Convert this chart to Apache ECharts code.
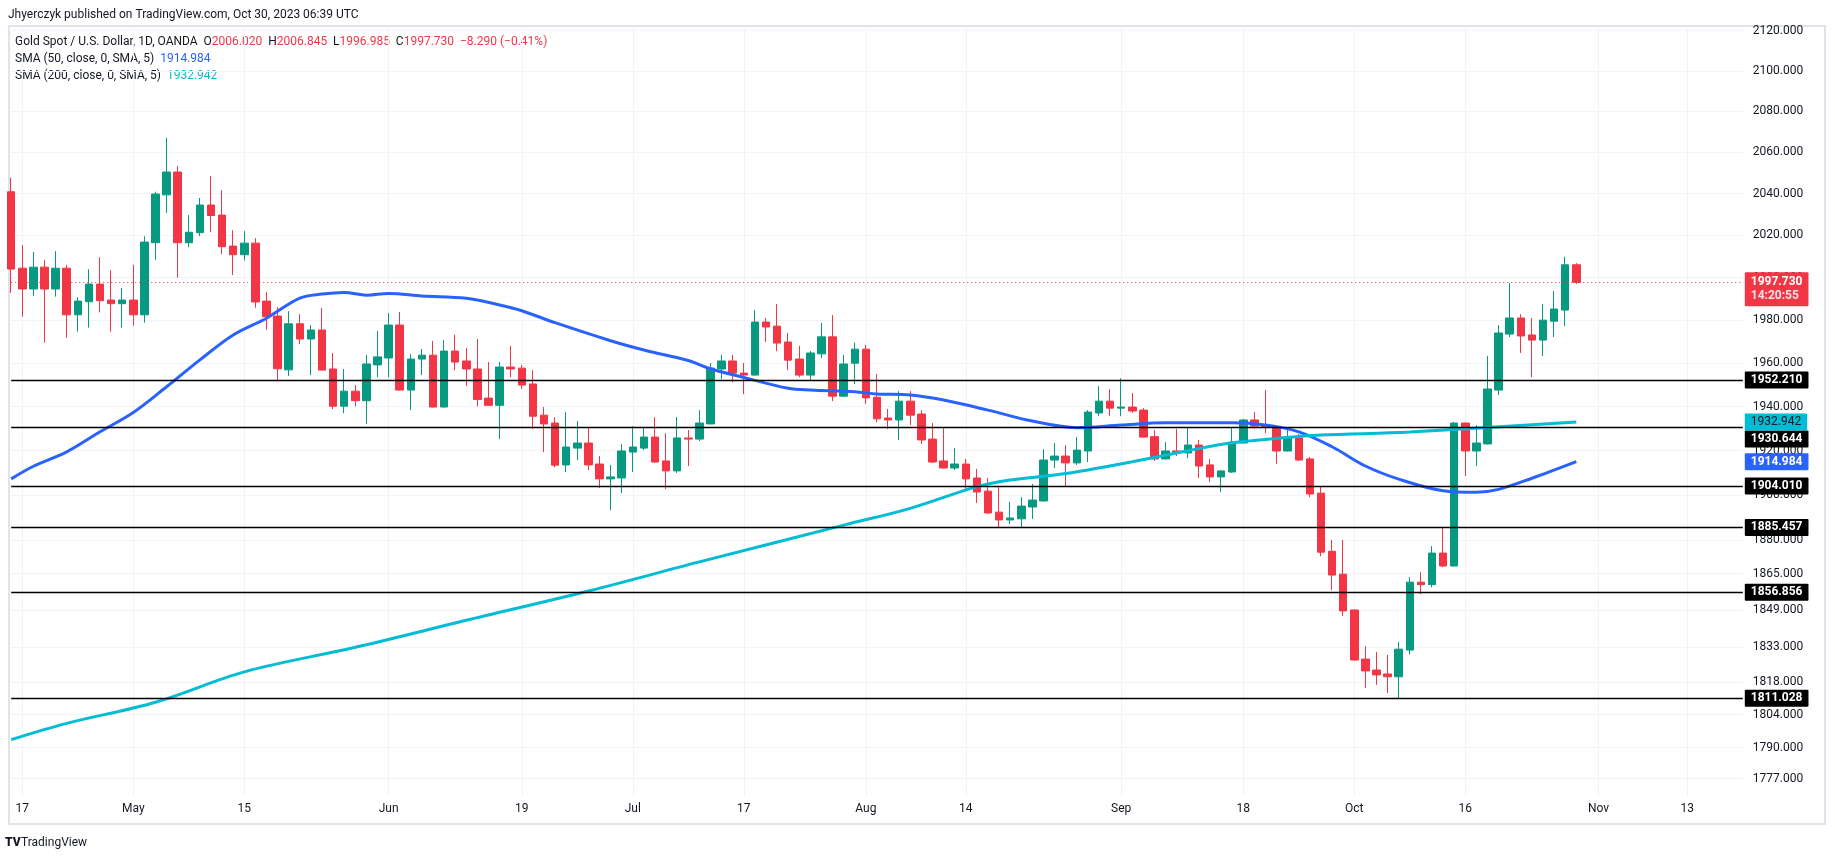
<!DOCTYPE html>
<html>
<head>
<meta charset="utf-8">
<title>Gold Spot / U.S. Dollar, 1D, OANDA</title>
<script src="https://cdn.jsdelivr.net/npm/echarts@6.0.0/dist/echarts.min.js"></script>
<style>
    html, body { margin: 0; padding: 0; background: #ffffff; }
    #main { width: 1835px; height: 860px; }
</style>
</head>
<body>
<div id="main"></div>
<script>
// daily candles from Apr 14 to Oct 30 2023
var opens = [
    2040.9, 2004.4, 1994.6, 2004.9, 1994.6, 2004.4, 1982.5, 1988.6, 1996.9, 1989.4,
    1987.7, 1989.4, 1982.5, 2016.5, 2039.4, 2050.4, 2016.5, 2021.3, 2034.5, 2029.7,
    2014.9, 2010.8, 2016.3, 1988.9, 1981.9, 1956.9, 1978.3, 1971.2, 1975.4, 1957.3,
    1940.2, 1947.1, 1942.7, 1959.2, 1962.4, 1977.7, 1947.6, 1961.9, 1963.7, 1939.8,
    1965.6, 1961.0, 1957.3, 1943.9, 1940.6, 1958.2, 1957.7, 1950.4, 1936.1, 1932.5,
    1913.5, 1921.1, 1923.4, 1913.9, 1907.2, 1907.6, 1919.3, 1921.1, 1926.1, 1915.3,
    1910.8, 1925.7, 1925.2, 1932.1, 1957.3, 1961.0, 1955.4, 1954.5, 1979.1, 1977.2,
    1969.8, 1961.9, 1954.5, 1964.3, 1972.2, 1944.8, 1960.0, 1966.5, 1944.3, 1934.8,
    1933.9, 1942.5, 1936.6, 1925.2, 1915.3, 1912.1, 1913.9, 1907.6, 1901.7, 1892.3,
    1888.8, 1889.3, 1894.6, 1897.3, 1915.7, 1917.5, 1914.4, 1919.8, 1937.1, 1942.5,
    1939.3, 1939.8, 1938.4, 1926.3, 1916.2, 1919.8, 1918.9, 1922.5, 1913.5, 1908.1,
    1910.3, 1923.4, 1933.9, 1931.6, 1930.6, 1919.8, 1925.7, 1916.2, 1900.8, 1874.9,
    1864.8, 1849.1, 1827.8, 1823.1, 1821.4, 1820.2, 1831.7, 1861.3, 1860.2, 1874.1,
    1868.4, 1932.5, 1919.8, 1923.0, 1947.6, 1973.5, 1981.0, 1973.1, 1970.7, 1979.5,
    1984.7, 2006.02
];
var highs = [
    2047.7, 2015.4, 2012.1, 2008.2, 2012.5, 2005.9, 1990.8, 2003.9, 2009.6, 2003.5,
    1995.0, 2006.0, 2019.6, 2040.9, 2067.0, 2053.3, 2029.7, 2037.9, 2048.5, 2041.7,
    2022.5, 2022.0, 2018.7, 1993.2, 1986.1, 1984.2, 1982.8, 1977.7, 1985.6, 1964.7,
    1957.3, 1949.9, 1963.8, 1975.0, 1983.3, 1983.8, 1964.2, 1966.6, 1970.3, 1970.7,
    1973.2, 1967.0, 1971.2, 1960.5, 1960.5, 1968.0, 1959.2, 1956.8, 1939.8, 1935.2,
    1937.5, 1933.4, 1930.2, 1917.5, 1913.5, 1922.9, 1931.1, 1930.6, 1935.2, 1927.9,
    1935.2, 1929.3, 1938.4, 1960.1, 1963.8, 1963.8, 1960.1, 1984.7, 1981.0, 1987.5,
    1974.0, 1968.0, 1965.6, 1978.7, 1982.4, 1963.8, 1969.5, 1968.5, 1955.0, 1938.9,
    1947.1, 1947.1, 1938.4, 1932.5, 1930.2, 1921.1, 1916.2, 1911.7, 1907.6, 1903.5,
    1896.9, 1899.0, 1904.9, 1920.6, 1923.4, 1922.4, 1926.1, 1938.4, 1949.4, 1948.0,
    1953.0, 1946.2, 1939.3, 1929.3, 1923.8, 1929.8, 1930.6, 1924.8, 1916.2, 1911.0,
    1930.6, 1934.4, 1937.5, 1947.6, 1931.1, 1929.3, 1927.5, 1917.1, 1904.0, 1879.9,
    1879.9, 1849.3, 1833.4, 1830.9, 1829.6, 1835.2, 1863.5, 1865.7, 1877.2, 1885.6,
    1933.0, 1932.7, 1931.6, 1963.3, 1977.7, 1997.3, 1982.8, 1981.0, 1987.5, 1993.6,
    2009.8, 2006.845
];
var lows = [
    1992.8, 1981.6, 1991.4, 1969.5, 1991.0, 1971.8, 1974.6, 1976.5, 1983.6, 1974.6,
    1976.5, 1977.4, 1978.8, 2008.4, 2030.8, 1999.9, 2014.4, 2019.6, 2021.5, 2011.1,
    2001.2, 2008.0, 1985.8, 1975.5, 1951.5, 1954.0, 1968.9, 1954.5, 1956.6, 1938.9,
    1937.0, 1940.2, 1932.1, 1953.5, 1953.5, 1947.4, 1938.4, 1954.5, 1939.6, 1939.6,
    1956.8, 1949.4, 1940.2, 1940.4, 1925.2, 1953.5, 1948.1, 1929.8, 1919.3, 1912.5,
    1910.3, 1915.7, 1911.2, 1903.1, 1893.2, 1900.9, 1910.3, 1920.2, 1914.6, 1902.6,
    1909.9, 1913.0, 1924.3, 1931.9, 1952.6, 1951.2, 1945.7, 1954.3, 1969.8, 1965.6,
    1956.8, 1953.5, 1952.1, 1962.4, 1942.5, 1944.6, 1950.4, 1941.3, 1932.8, 1929.8,
    1924.8, 1931.6, 1923.0, 1914.4, 1911.9, 1911.2, 1902.6, 1896.4, 1891.7, 1885.2,
    1887.0, 1885.2, 1889.3, 1897.1, 1912.1, 1904.0, 1913.5, 1914.8, 1935.6, 1935.6,
    1935.6, 1937.1, 1925.9, 1915.3, 1916.0, 1917.5, 1916.6, 1907.6, 1905.8, 1901.3,
    1909.9, 1923.2, 1929.8, 1927.9, 1914.0, 1919.6, 1915.3, 1899.0, 1872.7, 1857.8,
    1846.5, 1827.2, 1815.4, 1816.7, 1813.2, 1810.7, 1829.8, 1856.0, 1859.0, 1867.9,
    1868.2, 1908.5, 1913.0, 1922.8, 1945.3, 1972.1, 1964.7, 1953.5, 1963.3, 1972.1,
    1977.2, 1996.985
];
var closes = [
    2004.0, 1994.6, 2004.9, 1994.6, 2004.4, 1982.5, 1988.9, 1996.9, 1989.1, 1987.7,
    1989.4, 1982.5, 2016.8, 2039.8, 2050.4, 2016.5, 2021.5, 2034.5, 2029.5, 2014.6,
    2010.8, 2016.3, 1988.5, 1981.6, 1957.4, 1978.3, 1971.2, 1975.4, 1956.8, 1940.2,
    1947.1, 1942.7, 1959.6, 1962.9, 1977.7, 1947.6, 1961.9, 1963.7, 1939.8, 1965.6,
    1960.5, 1957.3, 1943.3, 1940.6, 1958.2, 1957.3, 1949.9, 1935.6, 1932.1, 1913.4,
    1921.6, 1923.4, 1913.5, 1907.2, 1908.1, 1919.8, 1921.6, 1926.1, 1914.8, 1910.8,
    1925.7, 1925.2, 1932.5, 1957.7, 1961.0, 1955.4, 1954.5, 1979.1, 1976.8, 1969.3,
    1961.4, 1954.5, 1964.7, 1972.2, 1944.8, 1959.6, 1966.5, 1944.0, 1934.4, 1933.9,
    1942.5, 1936.1, 1924.8, 1914.8, 1912.1, 1913.9, 1907.2, 1901.3, 1891.9, 1888.8,
    1889.7, 1895.0, 1897.7, 1915.7, 1917.5, 1914.4, 1920.2, 1937.5, 1942.5, 1939.3,
    1939.8, 1938.0, 1926.1, 1916.2, 1919.8, 1918.9, 1922.5, 1913.0, 1908.1, 1910.8,
    1923.8, 1933.9, 1931.1, 1930.6, 1919.8, 1926.1, 1915.7, 1900.4, 1874.5, 1864.4,
    1848.7, 1827.4, 1822.7, 1821.0, 1820.2, 1832.1, 1861.3, 1860.2, 1874.1, 1868.4,
    1932.5, 1919.8, 1923.4, 1948.1, 1974.0, 1981.0, 1972.6, 1970.7, 1980.0, 1985.2,
    2006.02, 1997.73
];

// moving averages, read at a few candles (candle index, value)
var sma50Idx = [0, 2, 5, 8, 11, 14, 17, 20, 23, 26, 28, 30, 32, 34, 37, 41, 44, 46, 49, 54,
    57, 61, 63, 66, 70, 72, 76, 78, 81, 84, 88, 92, 96, 100, 104, 110, 113, 116, 119, 122,
    125, 129, 132, 134, 137, 141];
var sma50Val = [1907.2, 1912.9, 1919.4, 1928.5, 1937.3, 1949.1, 1961.5, 1973.1, 1980.9, 1990.3,
    1992.2, 1993.0, 1991.7, 1992.5, 1991.3, 1990.2, 1987.1, 1984.4, 1978.8, 1970.4,
    1966.1, 1961.2, 1957.4, 1953.4, 1948.4, 1947.6, 1946.8, 1945.8, 1945.3, 1943.0,
    1938.4, 1933.4, 1930.4, 1931.6, 1932.6, 1932.6, 1931.6, 1928.5, 1921.7, 1913.0,
    1907.1, 1901.9, 1901.2, 1902.5, 1907.5, 1914.984];
var sma200Idx = [0, 5, 13, 21, 31, 41, 52, 62, 75, 81, 87, 90, 94, 97, 101, 106, 110, 114, 118, 126, 141];
var sma200Val = [1793.4, 1800.3, 1809.3, 1822.3, 1832.9, 1844.6, 1857.4, 1870.2, 1886.5, 1894.0,
    1903.7, 1906.7, 1908.9, 1911.2, 1914.9, 1919.9, 1923.5, 1925.5, 1927.0, 1928.4, 1932.942];

// horizontal support / resistance levels drawn on the chart
var levels = [1952.210, 1930.644, 1904.010, 1885.457, 1856.856, 1811.028];

// price scale and time scale labels
var yTicks = [2120, 2100, 2080, 2060, 2040, 2020, 2000, 1980, 1960, 1940, 1920, 1900, 1880,
    1865, 1849, 1833, 1818, 1804, 1790, 1777];
var xLabelDates = ['2023-04-17', '2023-05-01', '2023-05-15', '2023-06-01', '2023-06-19',
    '2023-07-03', '2023-07-17', '2023-08-01', '2023-08-14', '2023-09-01', '2023-09-18',
    '2023-10-02', '2023-10-16', '2023-11-01', '2023-11-13'];
var xLabelTexts = ['17', 'May', '15', 'Jun', '19', 'Jul', '17', 'Aug', '14', 'Sep', '18',
    'Oct', '16', 'Nov', '13'];

// trading days (weekdays) incl. the empty space on the right
var dates = [];
var day = new Date(Date.UTC(2023, 3, 14));
while (dates.length < 157) {
    var wd = day.getUTCDay();
    if (wd !== 0 && wd !== 6) dates.push(day.toISOString().slice(0, 10));
    day.setUTCDate(day.getUTCDate() + 1);
}

var UP = '#089981', DOWN = '#f23645', BLUE = '#2962ff', CYAN = '#00bcd4';
var FONT = 'Roboto, "Noto Sans", sans-serif';

var last = closes.length - 1;
var chg = closes[last] - closes[last - 1];
var chgPct = chg / closes[last - 1] * 100;
function fmt(v) { return v.toFixed(3); }
function signed(v, d) { return (v < 0 ? '\u2212' : '+') + Math.abs(v).toFixed(d); }

var candles = opens.map(function (o, i) {
    return [o, closes[i], lows[i], highs[i]];
});
var sma50 = sma50Idx.map(function (k, j) { return [k, sma50Val[j]]; });
var sma200 = sma200Idx.map(function (k, j) { return [k, sma200Val[j]]; });

function isLabelDay(idx, value) {
    return xLabelDates.indexOf(value) >= 0;
}

var axisBox = {
    position: 'end', distance: 2, color: '#ffffff', fontSize: 12, fontWeight: 'bold',
    fontFamily: FONT, padding: [3, 6, 2, 6], borderRadius: 1,
    formatter: function (p) { return fmt(p.value); }
};
var hidden = { color: 'rgba(0,0,0,0)', width: 0 };

var chartDom = document.getElementById('main');
var myChart = echarts.init(chartDom, null, { renderer: 'canvas' });

var option = {
    animation: false,
    backgroundColor: '#ffffff',
    grid: { left: 11.2, right: 92.2, top: 26, bottom: 64 },
    xAxis: {
        type: 'category',
        data: dates,
        boundaryGap: false,
        axisLine: { show: false },
        axisTick: { show: false },
        axisLabel: {
            interval: isLabelDay,
            formatter: function (v) { return xLabelTexts[xLabelDates.indexOf(v)]; },
            color: '#131722', fontSize: 12, fontFamily: FONT, margin: 7
        },
        splitLine: { show: true, interval: isLabelDay, lineStyle: { color: '#f0f3fa', width: 1 } }
    },
    yAxis: {
        type: 'log',
        min: 1769.7,
        max: 2122.3,
        position: 'right',
        axisLine: { show: false },
        axisTick: { show: false },
        axisLabel: { show: false },
        splitLine: { show: false }
    },
    graphic: [
        {
            type: 'rect', silent: true, z: -10,
            shape: { x: 9, y: 26, width: 1816, height: 798 },
            style: { fill: 'none', stroke: '#e0e3eb', lineWidth: 2 }
        },
        {
            type: 'text', x: 8, y: 15, silent: true,
            style: {
                text: 'Jhyerczyk published on TradingView.com, Oct 30, 2023 06:39 UTC',
                fill: '#131722', font: '12px ' + FONT, verticalAlign: 'middle'
            }
        },
        {
            type: 'text', x: 15, y: 42, silent: true,
            style: {
                text: '{t|Gold Spot / U.S. Dollar, 1D, OANDA  O}{r|' + fmt(opens[last]) + '}' +
                    '{t|  H}{r|' + fmt(highs[last]) + '}' +
                    '{t|  L}{r|' + fmt(lows[last]) + '}' +
                    '{t|  C}{r|' + fmt(closes[last]) + '}' +
                    '{r|  ' + signed(chg, 3) + ' (' + signed(chgPct, 2) + '%)}',
                verticalAlign: 'middle',
                rich: {
                    t: { fill: '#131722', font: '12px ' + FONT },
                    r: { fill: DOWN, font: '12px ' + FONT }
                }
            }
        },
        {
            type: 'text', x: 15, y: 59, silent: true,
            style: {
                text: '{t|SMA (50, close, 0, SMA, 5)  }{v|' + fmt(sma50Val[sma50Val.length - 1]) + '}',
                verticalAlign: 'middle',
                rich: {
                    t: { fill: '#131722', font: '12px ' + FONT },
                    v: { fill: BLUE, font: '12px ' + FONT }
                }
            }
        },
        {
            type: 'text', x: 15, y: 76, silent: true,
            style: {
                text: '{t|SMA (200, close, 0, SMA, 5)  }{v|' + fmt(sma200Val[sma200Val.length - 1]) + '}',
                verticalAlign: 'middle',
                rich: {
                    t: { fill: '#131722', font: '12px ' + FONT },
                    v: { fill: CYAN, font: '12px ' + FONT }
                }
            }
        },
        {
            type: 'text', x: 5, y: 843, silent: true,
            style: { text: 'TV', fill: '#131722', font: '900 12px ' + FONT, verticalAlign: 'middle' }
        },
        {
            type: 'text', x: 21, y: 843, silent: true,
            style: { text: 'TradingView', fill: '#131722', font: '12px ' + FONT, verticalAlign: 'middle' }
        }
    ],
    series: [
        {
            name: 'XAUUSD',
            type: 'candlestick',
            data: candles,
            barWidth: 8,
            z: 2,
            itemStyle: {
                color: UP, color0: DOWN,
                borderColor: UP, borderColor0: DOWN,
                borderWidth: 1
            },
            // price scale grid + tick labels
            markLine: {
                silent: true,
                symbol: 'none',
                z: 1,
                animation: false,
                lineStyle: { color: '#f0f3fa', width: 1, type: 'solid' },
                label: {
                    position: 'end', distance: 10, color: '#131722', fontSize: 12, fontFamily: FONT,
                    formatter: function (p) { return fmt(p.value); }
                },
                data: yTicks.map(function (v) { return { yAxis: v }; })
            }
        },
        {
            name: 'SMA 50',
            type: 'line',
            data: sma50,
            smooth: 0.35,
            showSymbol: false,
            z: 3,
            lineStyle: { color: BLUE, width: 3 },
            markLine: {
                silent: true, symbol: 'none', z: 6, animation: false, precision: 3,
                lineStyle: hidden,
                label: Object.assign({}, axisBox, { backgroundColor: BLUE }),
                data: [{ yAxis: sma50Val[sma50Val.length - 1] }]
            }
        },
        {
            name: 'SMA 200',
            type: 'line',
            data: sma200,
            smooth: 0.35,
            showSymbol: false,
            z: 3,
            lineStyle: { color: CYAN, width: 3 },
            markLine: {
                silent: true, symbol: 'none', z: 6, animation: false, precision: 3,
                lineStyle: hidden,
                label: Object.assign({}, axisBox, { backgroundColor: CYAN, color: '#131722', fontWeight: 'normal' }),
                data: [{ yAxis: sma200Val[sma200Val.length - 1] }]
            }
        },
        {
            name: 'Levels',
            type: 'line',
            data: [],
            z: 4,
            markLine: {
                silent: true, symbol: 'none', z: 5, animation: false, precision: 3,
                lineStyle: { color: '#000000', width: 1.3, type: 'solid' },
                label: Object.assign({}, axisBox, { backgroundColor: '#000000' }),
                data: levels.map(function (v) {
                    var item = { yAxis: v };
                    // label pushed down so it clears the SMA 200 tag
                    if (v === 1930.644) item.label = { offset: [0, 12] };
                    return item;
                }).concat([{
                    yAxis: closes[last],
                    lineStyle: { color: DOWN, width: 1, type: [1, 3] },
                    label: {
                        backgroundColor: DOWN,
                        offset: [0, 7],
                        padding: [3, 6, 3, 6],
                        formatter: function (p) {
                            return '{a|' + fmt(p.value) + '}\n{b|14:20:55}';
                        },
                        rich: {
                            a: { color: '#ffffff', fontSize: 12, fontWeight: 'bold', fontFamily: FONT, lineHeight: 14 },
                            b: { color: '#fde2e4', fontSize: 12, fontWeight: 'bold', fontFamily: FONT, lineHeight: 14 }
                        }
                    }
                }])
            }
        }
    ]
};

myChart.setOption(option);
</script>
</body>
</html>
